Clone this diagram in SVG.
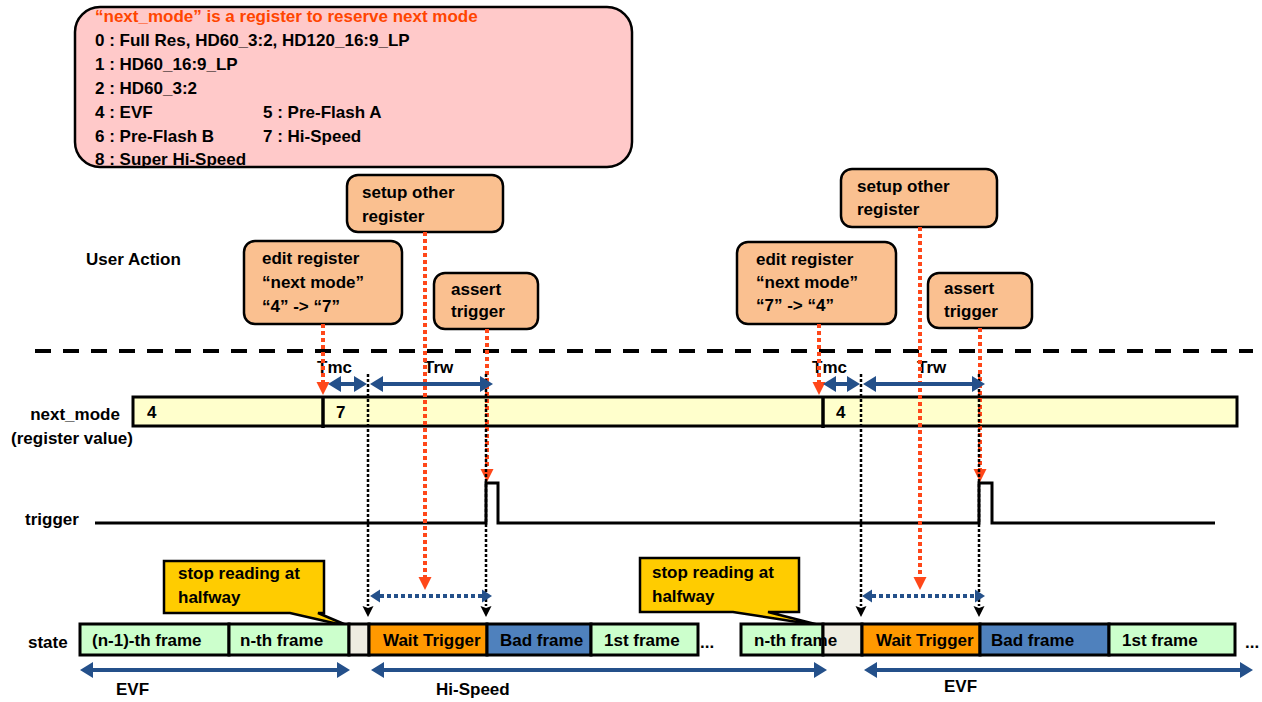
<svg xmlns="http://www.w3.org/2000/svg" width="1262" height="702" viewBox="0 0 1262 702">
<defs>
<style>
text{font-family:"Liberation Sans",Arial,sans-serif;font-weight:bold;font-size:17px;fill:#000}
.peach{fill:#FAC090;stroke:#000;stroke-width:2.5}
.callout{fill:#FFCC00;stroke:#000;stroke-width:2.5}
.cell{stroke:#000;stroke-width:3}
.green{fill:#CCFFCC}.gray{fill:#EEECE1}.orng{fill:#FF9900}.blue{fill:#4F81BD}
.bdot{stroke:#000;stroke-width:2.5;stroke-dasharray:3 2;fill:none}
.odot{stroke:#FF4719;stroke-width:4;stroke-dasharray:4 3;fill:none}
.barrow{stroke:#24508A;stroke-width:4;fill:none}
.bdash{stroke:#24508A;stroke-width:4;stroke-dasharray:4 3;fill:none}
</style>
<marker id="mb" markerUnits="userSpaceOnUse" markerWidth="20" markerHeight="20" refX="0" refY="0" orient="auto-start-reverse" overflow="visible"><path d="M0,-8 L13,0 L0,8 Z" fill="#24508A"/></marker>
<marker id="mbs" markerUnits="userSpaceOnUse" markerWidth="20" markerHeight="20" refX="0" refY="0" orient="auto-start-reverse" overflow="visible"><path d="M0,-6.5 L10,0 L0,6.5 Z" fill="#24508A"/></marker>
<marker id="mo" markerUnits="userSpaceOnUse" markerWidth="20" markerHeight="20" refX="0" refY="0" orient="auto" overflow="visible"><path d="M0,-6.5 L13,0 L0,6.5 Z" fill="#FF4719"/></marker>
<marker id="mk" markerUnits="userSpaceOnUse" markerWidth="20" markerHeight="20" refX="0" refY="0" orient="auto" overflow="visible"><path d="M0,-5.5 L11,0 L0,5.5 L2,0 Z" fill="#000"/></marker>
</defs>
<rect width="1262" height="702" fill="#fff"/>

<g id="legend">
<rect x="75" y="7" width="557" height="160" rx="25" fill="#FFC9C9" stroke="#000" stroke-width="2.5"/>
<text x="95" y="22" style="fill:#FF4500">“next_mode” is a register to reserve next mode</text>
<text x="95" y="46">0 : Full Res, HD60_3:2, HD120_16:9_LP</text>
<text x="95" y="70">1 : HD60_16:9_LP</text>
<text x="95" y="94">2 : HD60_3:2</text>
<text x="95" y="118">4 : EVF</text>
<text x="263" y="118">5 : Pre-Flash A</text>
<text x="95" y="142">6 : Pre-Flash B</text>
<text x="263" y="142">7 : Hi-Speed</text>
<text x="95" y="165">8 : Super Hi-Speed</text>
</g>

<g id="labels">
<text x="86" y="265">User Action</text>
<text x="75" y="420" text-anchor="middle">next_mode</text>
<text x="72" y="444" text-anchor="middle">(register value)</text>
<text x="25" y="525">trigger</text>
<text x="28" y="648">state</text>
<text x="317" y="373">Tmc</text>
<text x="424" y="373">Trw</text>
<text x="812" y="373">Tmc</text>
<text x="917" y="373">Trw</text>
<text x="116" y="695">EVF</text>
<text x="436" y="695">Hi-Speed</text>
<text x="944" y="692">EVF</text>
</g>

<line id="separator" x1="35" y1="351" x2="1253" y2="351" stroke="#000" stroke-width="4" stroke-dasharray="16 12"/>

<g id="edit1"><rect class="peach" x="244" y="241" width="158" height="83" rx="11"/>
<text x="262" y="264">edit register</text><text x="262" y="288">“next mode”</text><text x="262" y="312">“4” -&gt; “7”</text></g>
<g id="setup1"><rect class="peach" x="347" y="175" width="156" height="57" rx="11"/>
<text x="362" y="198">setup other</text><text x="362" y="222">register</text></g>
<g id="assert1"><rect class="peach" x="434" y="273" width="104" height="56" rx="11"/>
<text x="451" y="295">assert</text><text x="451" y="317">trigger</text></g>
<g id="edit2"><rect class="peach" x="737" y="242" width="159" height="82" rx="11"/>
<text x="756" y="265">edit register</text><text x="756" y="288">“next mode”</text><text x="756" y="311">“7” -&gt; “4”</text></g>
<g id="setup2"><rect class="peach" x="841" y="169" width="156" height="58" rx="11"/>
<text x="857" y="192">setup other</text><text x="857" y="215">register</text></g>
<g id="assert2"><rect class="peach" x="928" y="273" width="104" height="55" rx="11"/>
<text x="944" y="294">assert</text><text x="944" y="317">trigger</text></g>

<g id="next_mode">
<rect x="133" y="397" width="1104" height="29" fill="#FFFFCC" stroke="#000" stroke-width="3"/>
<line x1="323" y1="396" x2="323" y2="428" stroke="#000" stroke-width="3.5"/>
<line x1="823" y1="396" x2="823" y2="428" stroke="#000" stroke-width="3.5"/>
<text x="147" y="418">4</text><text x="336" y="418">7</text><text x="836" y="418">4</text>
</g>

<g id="trigger">
<polyline points="95,523 486,523 486,483 498,483 498,523 979,523 979,483 992,483 992,523 1215,523" fill="none" stroke="#000" stroke-width="3"/>
</g>

<g id="callout1"><path class="callout" d="M164,561 H324 V613 H318 L351,627 L290,613 H164 Z"/>
<text x="178" y="579">stop reading at</text><text x="178" y="603">halfway</text></g>
<g id="callout2"><path class="callout" d="M640,558 H799 V612 H768 L823,626 L733,612 H640 Z"/>
<text x="652" y="578">stop reading at</text><text x="652" y="602">halfway</text></g>

<g id="state">
<rect class="cell green" x="80" y="624" width="149" height="31"/>
<rect class="cell green" x="229" y="624" width="120" height="31"/>
<rect class="cell gray" x="349" y="624" width="20" height="31"/>
<rect class="cell orng" x="369" y="624" width="118" height="31"/>
<rect class="cell blue" x="487" y="624" width="104" height="31"/>
<rect class="cell green" x="591" y="624" width="107" height="31"/>
<rect class="cell green" x="741" y="624" width="82" height="31"/>
<rect class="cell gray" x="823" y="624" width="39" height="31"/>
<rect class="cell orng" x="862" y="624" width="118" height="31"/>
<rect class="cell blue" x="980" y="624" width="129" height="31"/>
<rect class="cell green" x="1109" y="624" width="126" height="31"/>
<text x="92" y="646">(n-1)-th frame</text>
<text x="240" y="646">n-th frame</text>
<text x="383" y="646">Wait Trigger</text>
<text x="500" y="646">Bad frame</text>
<text x="604" y="646">1st frame</text>
<text x="700" y="648">...</text>
<text x="754" y="646">n-th frame</text>
<text x="876" y="646">Wait Trigger</text>
<text x="991" y="646">Bad frame</text>
<text x="1122" y="646">1st frame</text>
<text x="1245" y="648">...</text>
</g>

<g id="connectors">
<line class="odot" x1="323" y1="324" x2="323" y2="382" marker-end="url(#mo)"/>
<line class="odot" x1="425" y1="232" x2="425" y2="577" marker-end="url(#mo)"/>
<line class="odot" x1="487" y1="329" x2="487" y2="469" marker-end="url(#mo)"/>
<line class="odot" x1="819" y1="324" x2="819" y2="382" marker-end="url(#mo)"/>
<line class="odot" x1="920" y1="227" x2="920" y2="577" marker-end="url(#mo)"/>
<line class="odot" x1="980" y1="328" x2="980" y2="469" marker-end="url(#mo)"/>
<line class="bdot" x1="368" y1="374" x2="368" y2="606" marker-end="url(#mk)"/>
<line class="bdot" x1="486" y1="374" x2="486" y2="606" marker-end="url(#mk)"/>
<line class="bdot" x1="861" y1="374" x2="861" y2="606" marker-end="url(#mk)"/>
<line class="bdot" x1="979" y1="374" x2="979" y2="606" marker-end="url(#mk)"/>
<line class="barrow" x1="341" y1="384" x2="354" y2="384" marker-start="url(#mb)" marker-end="url(#mb)"/>
<line class="barrow" x1="383" y1="384" x2="480" y2="384" marker-start="url(#mb)" marker-end="url(#mb)"/>
<line class="barrow" x1="836" y1="384" x2="847" y2="384" marker-start="url(#mb)" marker-end="url(#mb)"/>
<line class="barrow" x1="876" y1="384" x2="972" y2="384" marker-start="url(#mb)" marker-end="url(#mb)"/>
<line class="bdash" x1="380" y1="596" x2="482" y2="596" marker-start="url(#mbs)" marker-end="url(#mbs)"/>
<line class="bdash" x1="872" y1="596" x2="975" y2="596" marker-start="url(#mbs)" marker-end="url(#mbs)"/>
<line class="barrow" x1="93" y1="670" x2="337" y2="670" marker-start="url(#mb)" marker-end="url(#mb)"/>
<line class="barrow" x1="384" y1="670" x2="814" y2="670" marker-start="url(#mb)" marker-end="url(#mb)"/>
<line class="barrow" x1="877" y1="670" x2="1240" y2="670" marker-start="url(#mb)" marker-end="url(#mb)"/>
</g>
</svg>
